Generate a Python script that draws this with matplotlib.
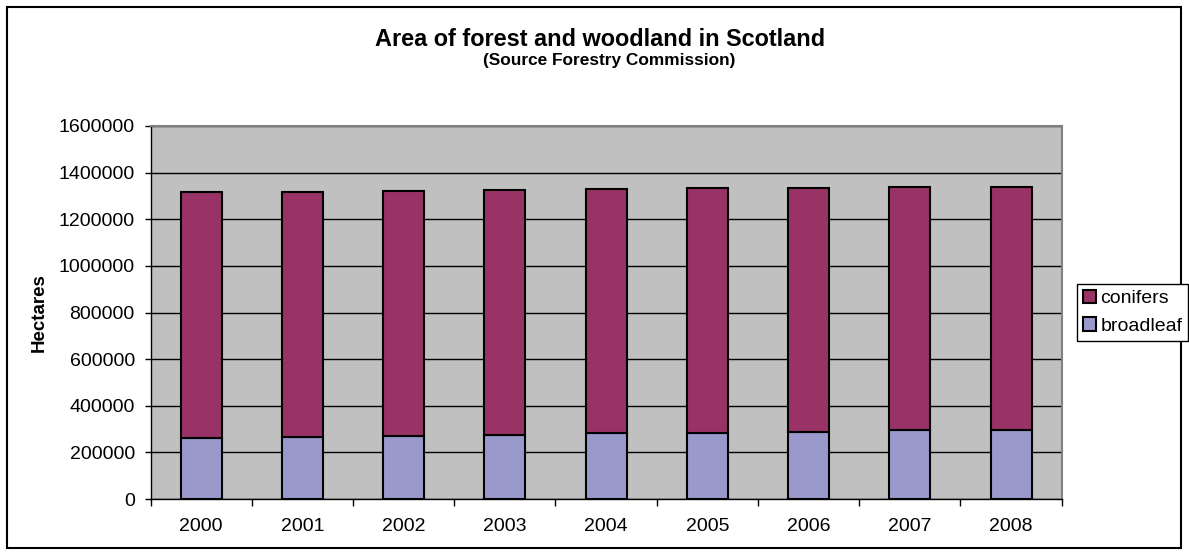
import numpy as np
from matplotlib import pyplot as plt
from matplotlib.patches import Rectangle

## Données (hectares)
annees = ['2000', '2001', '2002', '2003', '2004', '2005', '2006', '2007', '2008']
broadleaf = [261000, 265000, 272000, 276000, 281000, 285000, 289000, 294000, 297000]
conifers = [1056000, 1051000, 1050000, 1049000, 1047000, 1047000, 1046000, 1045000, 1042000]
yticks = [0, 200000, 400000, 600000, 800000, 1000000, 1200000, 1400000, 1600000]

plt.rcParams['font.family'] = ['Liberation Sans', 'DejaVu Sans']

fig = plt.figure(figsize=(11.89, 5.55), dpi=100)
ax = fig.add_axes([150.5/1189, 1-499/555, (1061.7-150.5)/1189, (499-126)/555])
ax.set_facecolor('#C0C0C0')

x = np.arange(len(annees))
b1 = ax.bar(x, broadleaf, width=0.405, color='#9999CC', edgecolor='black', linewidth=1.5, zorder=3, label='broadleaf')
b2 = ax.bar(x, conifers, width=0.405, bottom=broadleaf, color='#993366', edgecolor='black', linewidth=1.5, zorder=3, label='conifers')

ax.set_xlim(-0.5, len(annees)-0.5)
ax.set_ylim(0, 1600000)
ax.set_yticks(yticks)
ax.set_yticklabels([str(v) for v in yticks], fontsize=14)
ax.yaxis.grid(True, color='black', linewidth=1, zorder=1)
ax.set_axisbelow(True)

# étiquettes au centre, petites marques entre les catégories
ax.set_xticks(x)
ax.set_xticklabels(annees, fontsize=14)
ax.set_xticks(np.arange(-0.5, len(annees)), minor=True)
ax.tick_params(axis='x', which='major', length=0, pad=14)
ax.tick_params(axis='x', which='minor', length=5, width=1, direction='out')
ax.tick_params(axis='y', length=4.3, width=1, pad=7)

for s in ['top', 'right']:
    ax.spines[s].set_color('#808080')
    ax.spines[s].set_linewidth(1.5)
for s in ['left', 'bottom']:
    ax.spines[s].set_color('black')
    ax.spines[s].set_linewidth(1)

fig.text(600/1189, 1-46/555, 'Area of forest and woodland in Scotland', fontsize=16.9, fontweight='bold', ha='center', va='baseline')
fig.text(609.5/1189, 1-65/555, '(Source Forestry Commission)', fontsize=12.4, fontweight='bold', ha='center', va='baseline')
fig.text(39/1189, 1-312.5/555, 'Hectares', fontsize=13.5, fontweight='bold', rotation=90, ha='center', va='center')

leg = fig.legend([b2, b1], ['conifers', 'broadleaf'], loc='upper left', bbox_to_anchor=(1077/1189, 1-284/555),
                 fontsize=14, frameon=True, fancybox=False, edgecolor='black', framealpha=1,
                 handlelength=0.7, handleheight=0.7, handletextpad=0.2, borderpad=0.3,
                 labelspacing=0.5, borderaxespad=0)
leg.get_frame().set_linewidth(1)

# cadre extérieur du graphique
fig.patches.append(Rectangle((7/1189, 1-548/555), (1181-7)/1189, (548-7)/555, transform=fig.transFigure,
                             fill=False, edgecolor='black', linewidth=1.5))

plt.savefig('out.png', dpi=100)
